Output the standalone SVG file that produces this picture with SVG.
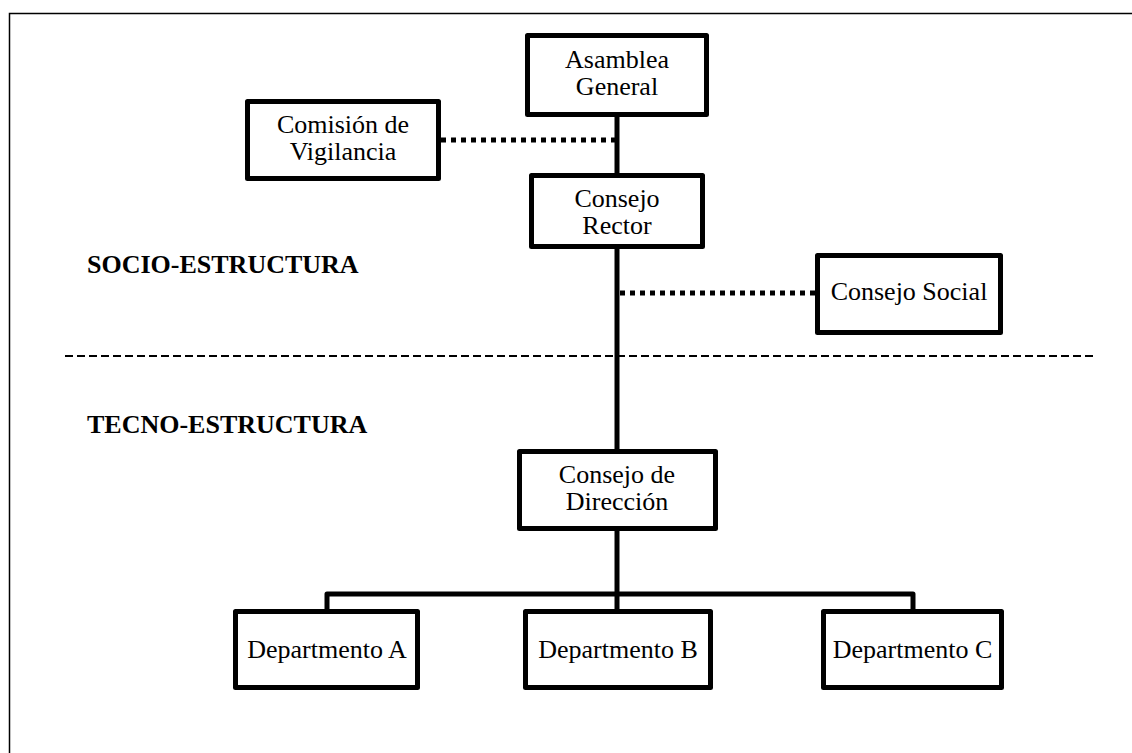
<svg xmlns="http://www.w3.org/2000/svg" width="1132" height="753" viewBox="0 0 1132 753">
<style>
.box{fill:#fff;stroke:#000;stroke-width:5;stroke-linejoin:round}
.t{font-family:"Liberation Serif","Times New Roman",serif;font-size:26px;fill:#000;text-anchor:middle}
.lbl{font-family:"Liberation Serif","Times New Roman",serif;font-size:26px;font-weight:bold;fill:#000}
.solid{fill:none;stroke:#000;stroke-width:5;stroke-linejoin:round}
.dot{fill:none;stroke:#000;stroke-width:5;stroke-dasharray:5 5}
.dash{fill:none;stroke:#000;stroke-width:2;stroke-dasharray:8 4}
</style>
<rect x="0" y="0" width="1132" height="753" fill="#fff"/>
<rect id="frame" x="9.5" y="13.5" width="1200" height="800" fill="none" stroke="#000" stroke-width="1.5"/>
<g id="connectors">
<line class="solid" x1="617" y1="117" x2="617" y2="449"/>
<line class="solid" x1="617" y1="531" x2="617" y2="609"/>
<polyline class="solid" points="327,609 327,594 913,594 913,609"/>
<line class="dot" x1="441" y1="140" x2="615" y2="140"/>
<line class="dot" x1="620" y1="293" x2="815" y2="293"/>
<line class="dash" x1="65" y1="356" x2="1097" y2="356"/>
</g>
<g id="asamblea">
<rect class="box" x="527.5" y="35.5" width="179" height="79"/>
<text class="t" x="617" y="68">Asamblea</text>
<text class="t" x="617" y="95">General</text>
</g>
<g id="comision">
<rect class="box" x="247.5" y="101.5" width="191" height="77"/>
<text class="t" x="343" y="133">Comisión de</text>
<text class="t" x="343" y="160">Vigilancia</text>
</g>
<g id="rector">
<rect class="box" x="531.5" y="175.5" width="171" height="71"/>
<text class="t" x="617" y="207">Consejo</text>
<text class="t" x="617" y="234">Rector</text>
</g>
<g id="social">
<rect class="box" x="817.5" y="255.5" width="183" height="77"/>
<text class="t" x="909" y="300">Consejo Social</text>
</g>
<g id="direccion">
<rect class="box" x="519.5" y="451.5" width="196" height="77"/>
<text class="t" x="617" y="483">Consejo de</text>
<text class="t" x="617" y="510">Dirección</text>
</g>
<g id="deptA">
<rect class="box" x="235.5" y="611.5" width="182" height="76"/>
<text class="t" x="327" y="658">Departmento A</text>
</g>
<g id="deptB">
<rect class="box" x="525.5" y="611.5" width="185" height="76"/>
<text class="t" x="618" y="658">Departmento B</text>
</g>
<g id="deptC">
<rect class="box" x="823.5" y="611.5" width="178" height="76"/>
<text class="t" x="912.5" y="658">Departmento C</text>
</g>
<g id="labels">
<text class="lbl" x="87" y="273">SOCIO-ESTRUCTURA</text>
<text class="lbl" x="87" y="433">TECNO-ESTRUCTURA</text>
</g>
</svg>
